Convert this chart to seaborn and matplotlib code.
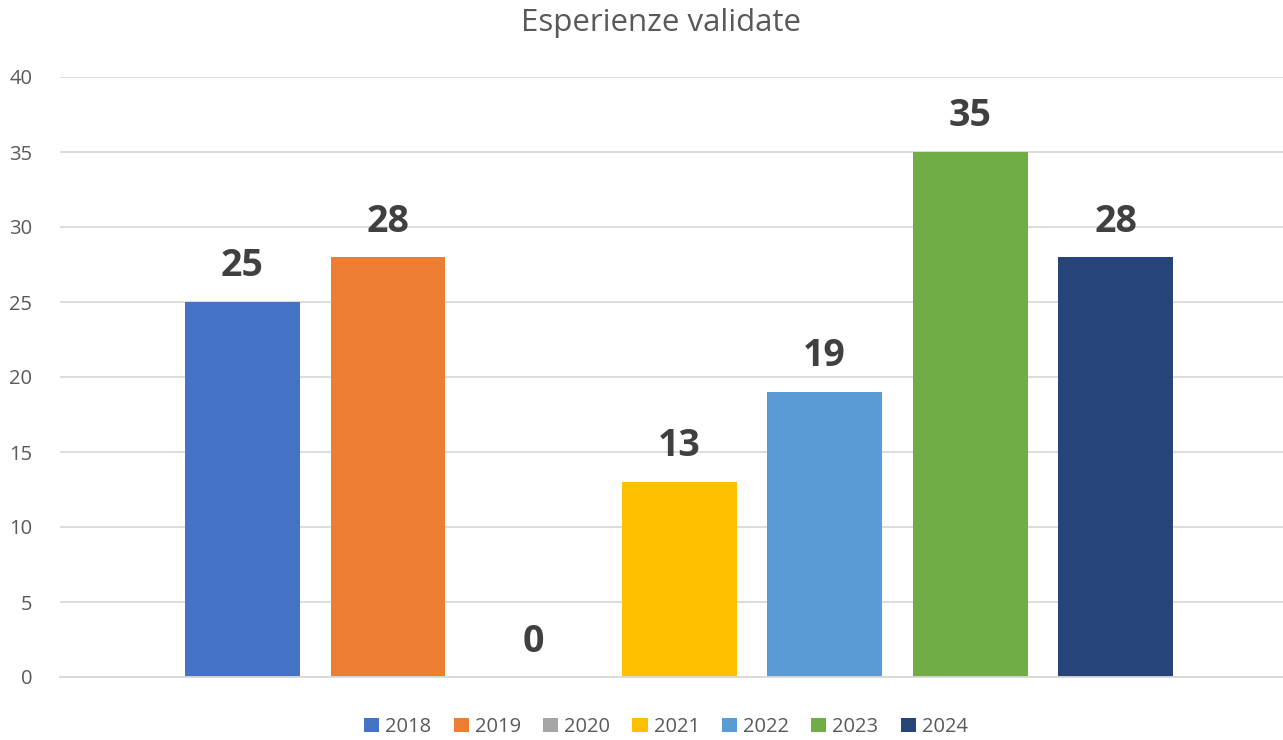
import matplotlib
matplotlib.use("Agg")
import matplotlib.pyplot as plt
import seaborn as sns
import pandas as pd
from matplotlib.patches import Patch

years = ["2018", "2019", "2020", "2021", "2022", "2023", "2024"]
values = [25, 28, 0, 13, 19, 35, 28]
colors = ["#4472C4", "#ED7D31", "#A5A5A5", "#FFC000", "#5B9BD5", "#70AD47", "#264478"]
title = "Esperienze validate"

sns.set_theme(style="white")
plt.rcParams["font.family"] = ["Open Sans", "DejaVu Sans"]

df = pd.DataFrame({"anno": years, "valore": values})

fig = plt.figure(figsize=(12.83, 7.40), dpi=100)
ax = fig.add_axes([60 / 1283, 63 / 740, 1223 / 1283, 600 / 740])

sns.barplot(data=df, x="anno", y="valore", hue="anno", palette=colors,
            width=0.79, legend=False, ax=ax, saturation=1, linewidth=0)

ax.set_xlim(-1.254, 7.15)
ax.set_ylim(0, 40)
ax.set_yticks(range(0, 41, 5))
ax.yaxis.grid(True, color="#D9D9D9", linewidth=1.3)
ax.set_axisbelow(True)
for s in ["top", "right", "left"]:
    ax.spines[s].set_visible(False)
ax.spines["bottom"].set_color("#D9D9D9")
ax.spines["bottom"].set_linewidth(1.3)
ax.set_xticks([])
ax.set_xlabel("")
ax.set_ylabel("")
ax.tick_params(axis="y", length=0, labelsize=14.5, labelcolor="#595959", pad=20)
for lbl in ax.get_yticklabels():
    lbl.set_horizontalalignment("right")

for i, v in enumerate(values):
    ax.text(i, v + 1.1, str(v), ha="center", va="bottom", fontsize=27,
            fontweight="bold", color="#404040")

fig.text(661 / 1283, 1 - 23 / 740, title, ha="center", va="center",
         fontsize=22.5, color="#595959")

handles = [Patch(facecolor=c, edgecolor="none") for c in colors]
fig.legend(handles, years, loc="center", bbox_to_anchor=(666 / 1283, 1 - 727 / 740),
           ncol=7, frameon=False, fontsize=14.5, labelcolor="#595959",
           handlelength=0.75, handleheight=0.75, handletextpad=0.3, columnspacing=1.1)

fig.savefig("out.png", dpi=100)
